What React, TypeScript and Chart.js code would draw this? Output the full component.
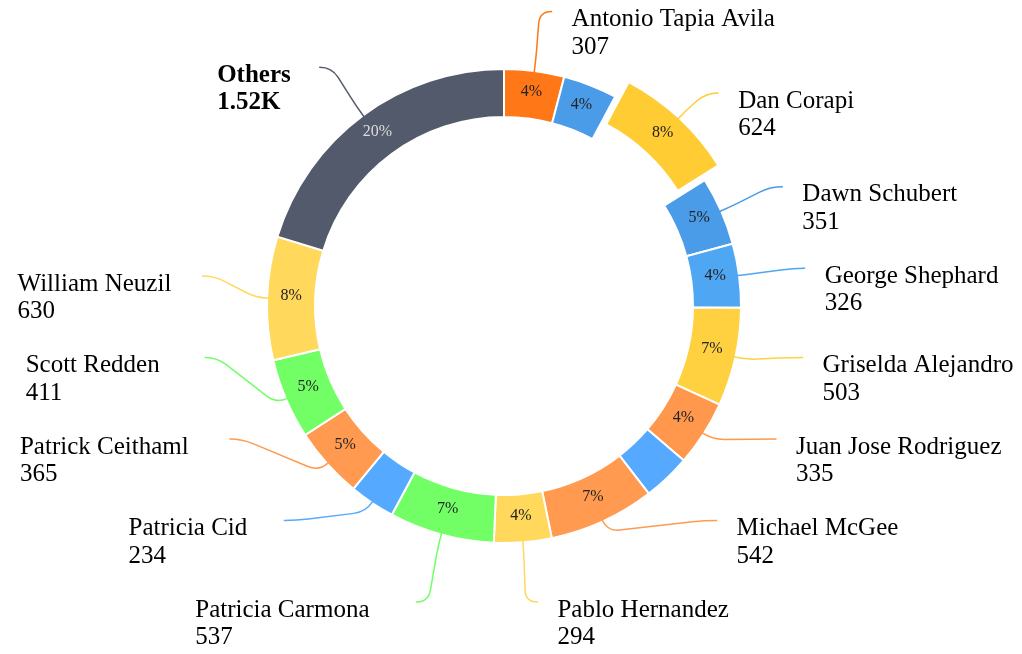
import React, { useEffect, useRef } from "react";
import { Chart, registerables } from "chart.js";

Chart.register(...registerables);

// ---- data ----
const CATEGORIES: string[] = [
  "Antonio Tapia Avila",
  "",
  "Dan Corapi",
  "Dawn Schubert",
  "George Shephard",
  "Griselda Alejandro",
  "Juan Jose Rodriguez",
  "",
  "Michael McGee",
  "Pablo Hernandez",
  "Patricia Carmona",
  "Patricia Cid",
  "Patrick Ceithaml",
  "Scott Redden",
  "William Neuzil",
  "Others",
];
const VALUES: number[] = [307, 275, 624, 351, 326, 503, 335, 243, 542, 294, 537, 234, 365, 411, 630, 1520];
const COLORS: string[] = [
  "#FF7717",
  "#4A9BE8",
  "#FFCC33",
  "#4A9BE8",
  "#4FA6F3",
  "#FFD040",
  "#FF984D",
  "#55AAFF",
  "#FF9A50",
  "#FFD85C",
  "#72FF66",
  "#55AAFF",
  "#FF9A50",
  "#72FF66",
  "#FFD85C",
  "#525A6B",
];
const OTHERS_LABEL = "Others";
const EXPLODED_CATEGORY = "Dan Corapi";

// ---- layout / style constants ----
const W = 1022;
const H = 654;
const CENTER_X = 504;
const CENTER_Y = 306;
const OUTER_R = 237;
const CUTOUT = "79.75%";
const EXPLODE_PX = 20;
const PCT_R = 213;
const PCT_MIN = 0.035;
const LABEL_R_Y = 297;
const LABEL_RA = 293;
const LEN2 = 10;
const STUB = 12;
const SPACING = 81.5;
const TOP_Y = 10;
const BOTTOM_Y = 602;
const SERIF = '"Liberation Serif", "Times New Roman", serif';
const SANS = '"Liberation Sans", Arial, sans-serif';

function formatValue(v: number): string {
  if (v >= 1000) return (v / 1000).toFixed(2).replace(/\.?0+$/, "") + "K";
  return String(v);
}

type Pt = { x: number; y: number };

function drawLeader(ctx: CanvasRenderingContext2D, p0: Pt, p1: Pt, p2: Pt, p3: Pt) {
  const d = (a: Pt, b: Pt) => Math.hypot(b.x - a.x, b.y - a.y);
  const along = (a: Pt, b: Pt, len: number, total: number): Pt =>
    total > 0 ? { x: a.x + ((b.x - a.x) * len) / total, y: a.y + ((b.y - a.y) * len) / total } : { ...a };
  const L01 = d(p0, p1);
  const L12 = d(p1, p2);
  const L23 = d(p2, p3);
  const c1 = Math.min(L01, L12 / 2);
  const c2 = Math.min(L12 / 2, L23);
  ctx.beginPath();
  ctx.moveTo(p0.x, p0.y);
  const a1 = along(p1, p0, c1, L01);
  const b1 = along(p1, p2, c1, L12);
  ctx.lineTo(a1.x, a1.y);
  ctx.quadraticCurveTo(p1.x, p1.y, b1.x, b1.y);
  const a2 = along(p2, p1, c2, L12);
  const b2 = along(p2, p3, c2, L23);
  ctx.lineTo(a2.x, a2.y);
  ctx.quadraticCurveTo(p2.x, p2.y, b2.x, b2.y);
  ctx.lineTo(p3.x, p3.y);
  ctx.stroke();
}

type Item = {
  i: number;
  mid: number;
  dir: number;
  y: number;
  endX: number;
  ex: number;
  ey: number;
};

function layoutSide(items: Item[], cx: number, cy: number) {
  items.sort((a, b) => a.y - b.y);
  let prev = -Infinity;
  for (const it of items) {
    it.y = Math.max(it.y, TOP_Y, prev + SPACING);
    prev = it.y;
  }
  let next = Infinity;
  for (let k = items.length - 1; k >= 0; k--) {
    const it = items[k];
    it.y = Math.min(it.y, BOTTOM_Y, next - SPACING);
    next = it.y;
  }
  const semis = [items.filter((it) => it.y < cy), items.filter((it) => it.y >= cy)];
  for (const semi of semis) {
    if (!semi.length) continue;
    let ext = semi[0];
    for (const it of semi) if (Math.abs(it.y - cy) > Math.abs(ext.y - cy)) ext = it;
    const dxe = LABEL_RA * Math.abs(Math.cos(ext.mid));
    const dye = Math.abs(ext.y - cy);
    const q = 1 - (dxe / LABEL_RA) ** 2;
    const rB = q > 0 ? dye / Math.sqrt(q) : LABEL_RA;
    for (const it of semi) {
      let dx: number;
      if (it === ext) dx = dxe;
      else {
        const dy = Math.abs(it.y - cy);
        dx = LABEL_RA * Math.sqrt(Math.max(0, 1 - (dy * dy) / (rB * rB)));
      }
      it.endX = cx + it.dir * (dx + LEN2);
    }
  }
}

const donutDecor = {
  id: "donutDecor",
  beforeDatasetsDraw(chart: any) {
    const meta = chart.getDatasetMeta(0);
    meta.data.forEach((arc: any, i: number) => {
      if (CATEGORIES[i] === EXPLODED_CATEGORY) {
        const mid = (arc.startAngle + arc.endAngle) / 2;
        arc.$ox = arc.x;
        arc.$oy = arc.y;
        arc.x += Math.cos(mid) * EXPLODE_PX;
        arc.y += Math.sin(mid) * EXPLODE_PX;
      }
    });
  },
  afterDatasetsDraw(chart: any) {
    const meta = chart.getDatasetMeta(0);
    const ctx: CanvasRenderingContext2D = chart.ctx;
    meta.data.forEach((arc: any) => {
      if (arc.$ox !== undefined) {
        arc.x = arc.$ox;
        arc.y = arc.$oy;
        delete arc.$ox;
        delete arc.$oy;
      }
    });
    const total = VALUES.reduce((s, v) => s + v, 0);
    const first = meta.data[0];
    const cx = first.x;
    const cy = first.y;
    const outer = first.outerRadius - 1;

    // percentages
    ctx.save();
    ctx.font = `16px ${SERIF}`;
    ctx.textAlign = "center";
    ctx.textBaseline = "middle";
    meta.data.forEach((arc: any, i: number) => {
      const pct = VALUES[i] / total;
      if (pct < PCT_MIN) return;
      const mid = (arc.startAngle + arc.endAngle) / 2;
      const ex = CATEGORIES[i] === EXPLODED_CATEGORY ? EXPLODE_PX : 0;
      const x = cx + Math.cos(mid) * (PCT_R + ex);
      const y = cy + Math.sin(mid) * (PCT_R + ex) - 3;
      ctx.fillStyle = CATEGORIES[i] === OTHERS_LABEL ? "#dcdcdc" : "#222222";
      ctx.fillText(Math.round(pct * 100) + "%", x, y);
    });
    ctx.restore();

    // outer labels
    const right: Item[] = [];
    const left: Item[] = [];
    meta.data.forEach((arc: any, i: number) => {
      if (!CATEGORIES[i]) return;
      const mid = (arc.startAngle + arc.endAngle) / 2;
      const dir = Math.cos(mid) >= 0 ? 1 : -1;
      const ex = CATEGORIES[i] === EXPLODED_CATEGORY ? EXPLODE_PX : 0;
      const it: Item = {
        i,
        mid,
        dir,
        y: cy + Math.sin(mid) * LABEL_R_Y,
        endX: 0,
        ex: cx + Math.cos(mid) * (outer + ex),
        ey: cy + Math.sin(mid) * (outer + ex),
      };
      (dir > 0 ? right : left).push(it);
    });
    layoutSide(right, cx, cy);
    layoutSide(left, cx, cy);

    ctx.save();
    ctx.lineWidth = 1.5;
    ctx.lineCap = "round";
    for (const it of [...right, ...left]) {
      const p0 = { x: it.ex, y: it.ey };
      const p1 = { x: it.ex + Math.cos(it.mid) * STUB, y: it.ey + Math.sin(it.mid) * STUB };
      const p3 = { x: it.endX, y: it.y };
      const p2 = { x: it.endX - it.dir * STUB, y: it.y };
      ctx.strokeStyle = COLORS[it.i];
      drawLeader(ctx, p0, p1, p2, p3);

      const name = CATEGORIES[it.i];
      const val = formatValue(VALUES[it.i]);
      const bold = name === OTHERS_LABEL;
      ctx.textBaseline = "middle";
      ctx.textAlign = "left";
      ctx.fillStyle = "#000000";
      let tx: number;
      if (it.dir > 0) {
        tx = it.endX + 20;
      } else {
        ctx.font = `${bold ? "bold " : ""}25px ${SANS}`;
        const w = Math.max(ctx.measureText(name).width, ctx.measureText(val).width);
        tx = it.endX - (bold ? 22 : 28) - w;
      }
      ctx.font = `${bold ? "bold " : ""}25px ${SERIF}`;
      ctx.fillText(name, tx, it.y + 8);
      ctx.fillText(val, tx, it.y + 35.5);
    }
    ctx.restore();
  },
};

export default function App() {
  const ref = useRef<HTMLCanvasElement | null>(null);
  useEffect(() => {
    const canvas = ref.current;
    if (!canvas) return;
    const chart = new Chart(canvas, {
      type: "doughnut",
      data: {
        labels: CATEGORIES,
        datasets: [
          {
            data: VALUES,
            backgroundColor: COLORS,
            borderColor: "#ffffff",
            borderWidth: 2,
          },
        ],
      },
      options: {
        responsive: false,
        animation: false,
        radius: OUTER_R,
        cutout: CUTOUT,
        events: [],
        layout: {
          padding: { left: 0, top: 0, right: W - 2 * CENTER_X, bottom: H - 2 * CENTER_Y },
        },
        plugins: {
          legend: { display: false },
          tooltip: { enabled: false },
        },
      } as any,
      plugins: [donutDecor as any],
    });
    return () => chart.destroy();
  }, []);
  return (
    <div style={{ position: "fixed", left: 0, top: 0, width: W, height: H, background: "#ffffff" }}>
      <canvas ref={ref} width={W} height={H} style={{ display: "block", width: W, height: H }} />
    </div>
  );
}
